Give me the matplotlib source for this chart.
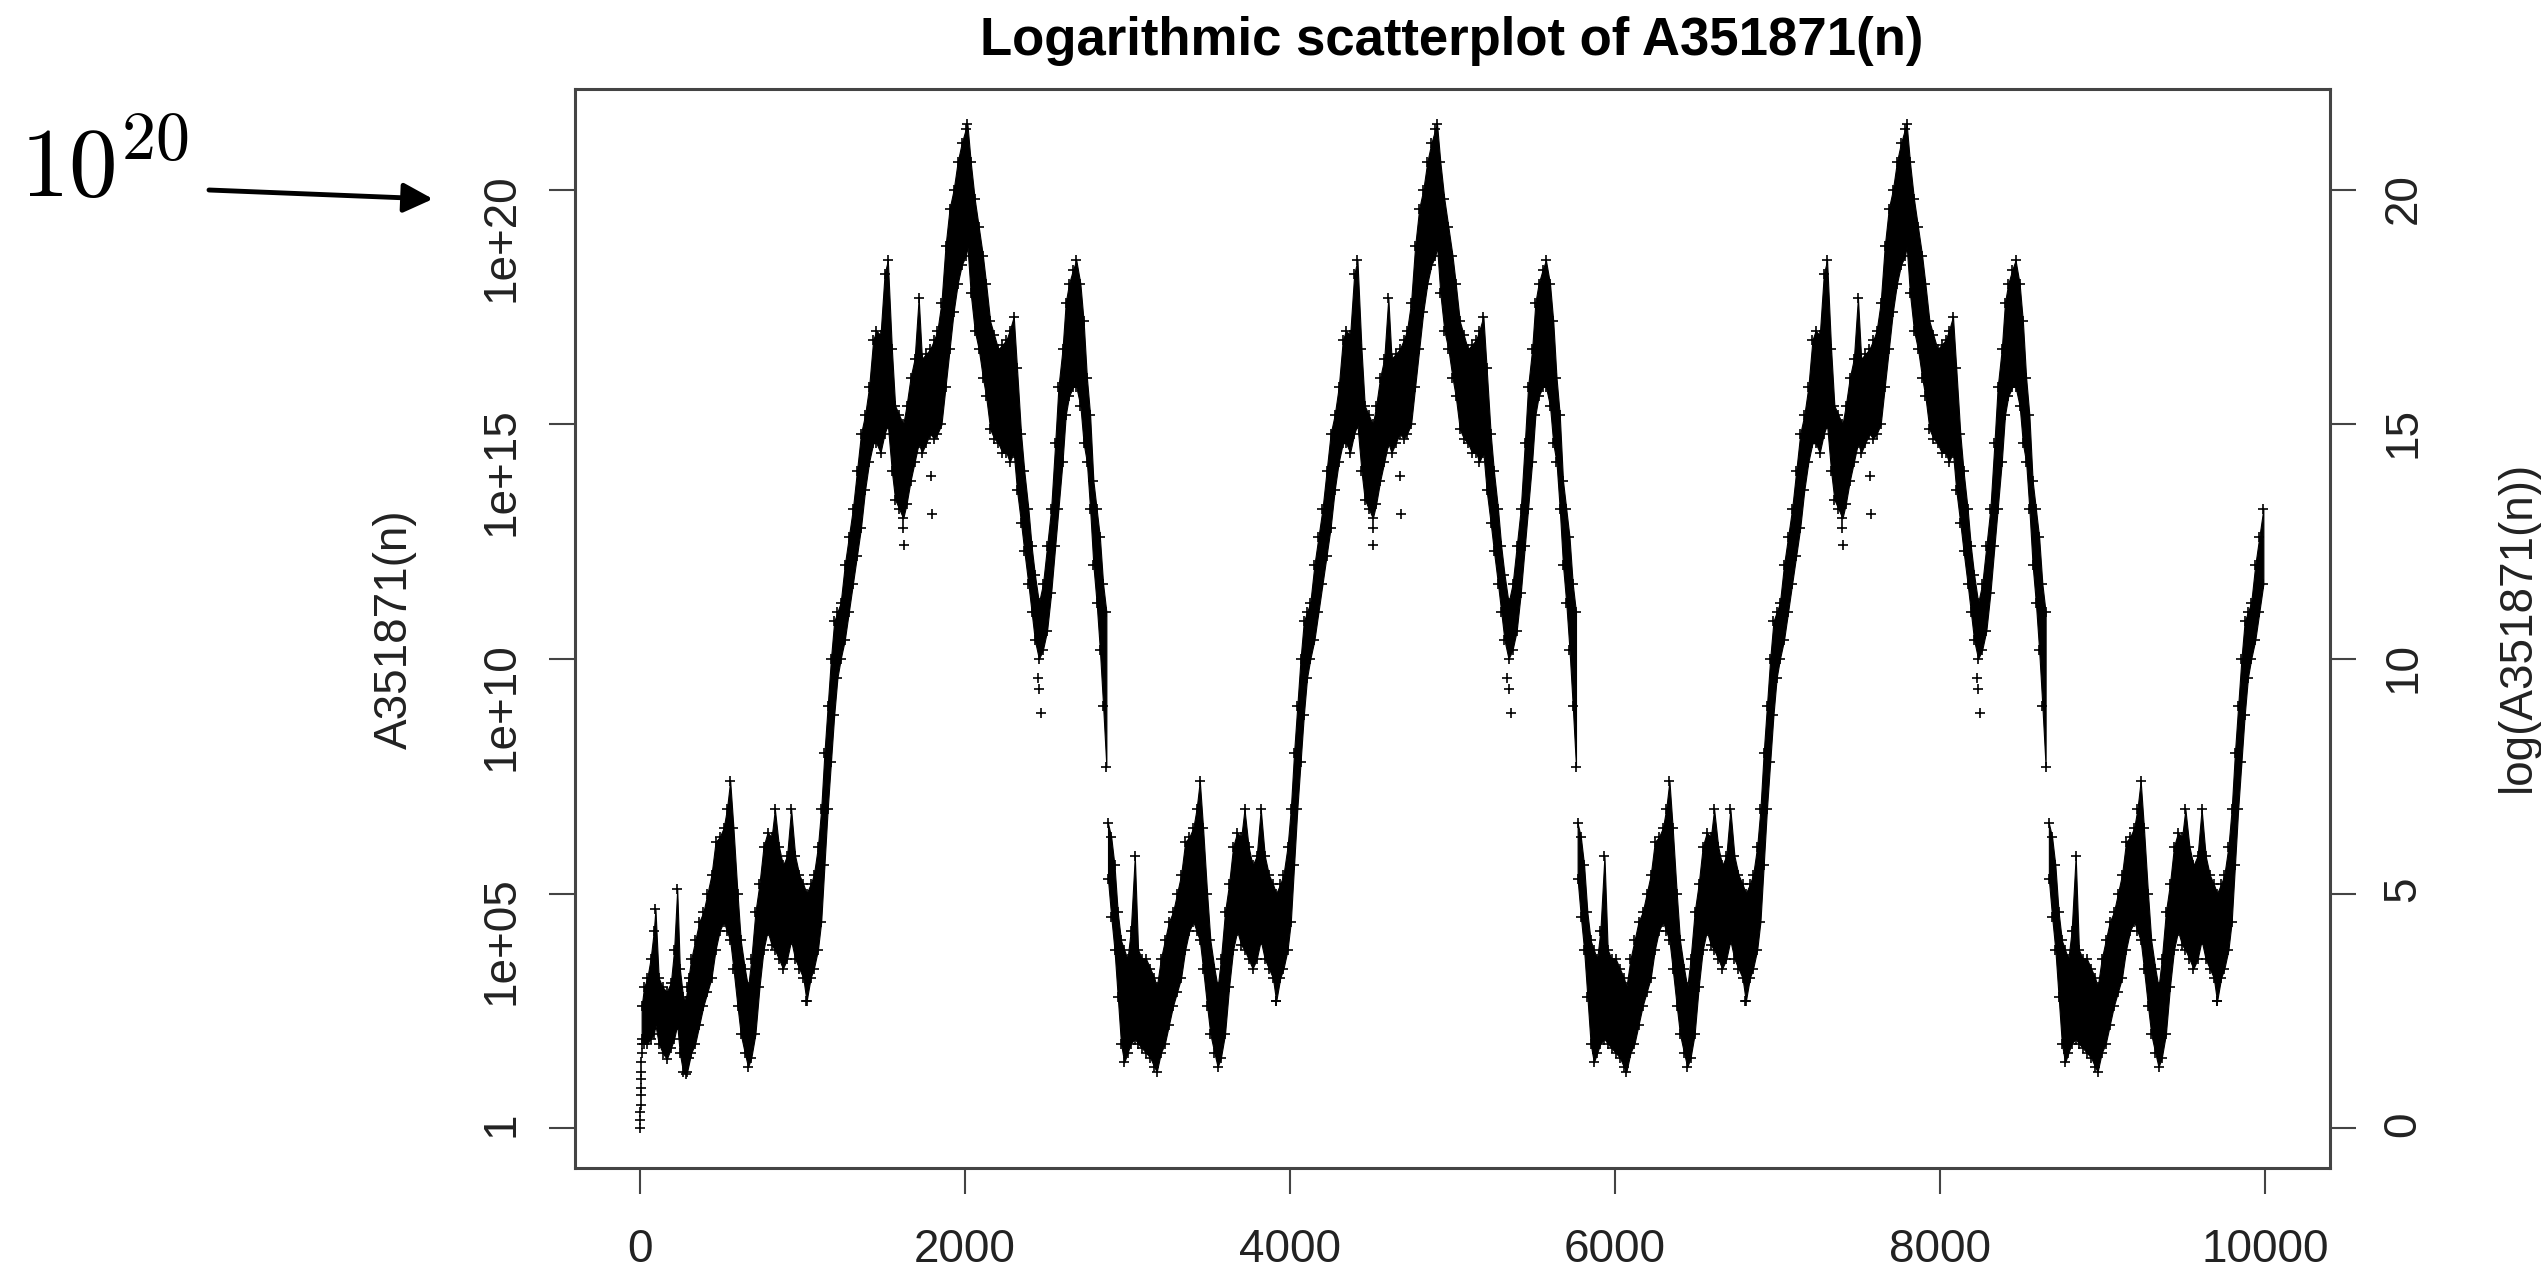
import numpy as np
import matplotlib.pyplot as plt

plt.rcParams['font.family'] = ['Liberation Sans', 'DejaVu Sans']
plt.rcParams['mathtext.fontset'] = 'cm'

# one period of the band (second cycle, n = 2880..5760), log10(A351871(n)) low / high edge
cyc_n = [2880, 2900, 2920, 2940, 2960, 2980, 3000, 3020, 3045, 3065, 3090, 3115, 3140, 3165,
         3180, 3205, 3230, 3255, 3280, 3305, 3330, 3355, 3380, 3405, 3425, 3445, 3465, 3490,
         3510, 3535, 3555, 3575, 3600, 3625, 3650, 3675, 3700, 3720, 3745, 3770, 3795, 3820,
         3845, 3870, 3895, 3915, 3940, 3960, 3985, 4005, 4025, 4045, 4065, 4085, 4105, 4125,
         4150, 4175, 4200, 4225, 4250, 4275, 4300, 4325, 4345, 4370, 4395, 4415, 4440, 4460,
         4485, 4510, 4530, 4555, 4580, 4605, 4625, 4650, 4675, 4700, 4720, 4745, 4770, 4795,
         4820, 4845, 4870, 4895, 4905, 4925, 4950, 4975, 5000, 5020, 5045, 5070, 5095, 5120,
         5145, 5165, 5190, 5210, 5235, 5255, 5280, 5300, 5320, 5345, 5370, 5395, 5420, 5445,
         5465, 5490, 5510, 5530, 5555, 5575, 5600, 5620, 5640, 5660, 5680, 5700, 5720, 5740,
         5760]
cyc_lo = [5.3, 4.5, 3.8, 2.8, 1.8, 1.4, 1.6, 1.8, 1.9, 1.8, 1.7, 1.6, 1.5, 1.3,
          1.2, 1.6, 1.8, 2.2, 2.6, 2.9, 3.2, 3.8, 4.2, 4.4, 4.2, 4.0, 3.4, 2.6,
          2.0, 1.6, 1.3, 1.5, 2.0, 3.0, 3.8, 4.2, 3.9, 3.8, 3.6, 3.4, 3.6, 4.0,
          3.6, 3.4, 3.2, 2.7, 3.2, 3.4, 3.8, 4.4, 5.6, 6.8, 7.8, 8.8, 9.6, 10.0,
          10.4, 11.0, 11.6, 12.2, 12.8, 13.6, 14.2, 14.6, 14.6, 14.4, 14.8, 15.0, 14.0, 13.4,
          13.2, 13.0, 13.3, 13.8, 14.2, 14.6, 14.4, 14.6, 14.8, 14.7, 14.8, 15.0, 15.8, 16.6,
          17.4, 18.0, 18.4, 18.6, 18.8, 17.8, 17.0, 16.6, 16.0, 15.6, 14.9, 14.7, 14.6, 14.4,
          14.4, 14.2, 14.4, 13.6, 12.9, 12.3, 11.6, 11.0, 10.4, 10.0, 10.2, 10.6, 11.4, 12.4,
          13.2, 14.2, 15.2, 15.6, 15.8, 15.8, 15.4, 14.6, 14.2, 13.2, 12.0, 11.2, 10.2, 9.0,
          7.7]
cyc_hi = [6.5, 6.2, 5.6, 4.6, 4.0, 3.8, 3.6, 4.2, 5.8, 3.8, 3.6, 3.6, 3.4, 3.2,
          3.0, 3.6, 4.0, 4.4, 4.6, 5.0, 5.4, 6.1, 6.2, 6.4, 6.8, 7.4, 6.4, 5.0,
          4.0, 3.4, 3.0, 3.6, 4.6, 5.2, 6.0, 6.3, 6.2, 6.8, 6.0, 5.6, 5.8, 6.8,
          5.8, 5.4, 5.2, 5.0, 5.2, 5.4, 6.0, 6.8, 8.0, 9.0, 10.0, 10.8, 11.0, 11.2,
          12.0, 12.6, 13.2, 14.0, 14.8, 15.2, 15.8, 16.8, 17.0, 16.9, 18.2, 18.5, 16.6, 15.4,
          15.2, 15.0, 15.4, 16.0, 16.4, 17.7, 16.4, 16.5, 16.6, 16.8, 17.0, 17.6, 18.8, 19.6,
          20.0, 20.6, 21.0, 21.3, 21.4, 20.6, 19.8, 19.2, 18.6, 18.0, 17.2, 16.9, 16.6, 16.7,
          16.8, 17.0, 17.3, 16.2, 14.8, 14.0, 13.2, 12.4, 11.8, 11.2, 11.6, 12.4, 13.2, 14.6,
          15.8, 16.6, 17.6, 18.0, 18.3, 18.5, 18.0, 17.2, 16.0, 15.2, 13.8, 13.2, 12.6, 11.6,
          11.0]
# the pattern repeats; shift of each copy of the period
cyc_shift = [-2890, 0, 2890, 5790]

# the very first terms differ from later cycles
start_n = [10, 25, 45, 65, 85, 95, 115, 140, 165, 190, 210, 229, 245, 265, 280, 300]
start_lo = [1.9, 1.8, 1.8, 1.9, 2.0, 2.2, 1.8, 1.6, 1.47, 1.7, 1.9, 2.2, 1.6, 1.2, 1.15, 1.5]
start_hi = [2.6, 3.0, 3.2, 3.6, 4.2, 4.67, 3.2, 3.0, 2.9, 3.1, 3.8, 5.1, 3.4, 2.8, 2.7, 3.2]
col_n = [1, 2, 3, 4, 5, 6, 7, 8, 9, 10, 11]
col_v = [0.0, 0.18, 0.35, 0.5, 0.7, 0.85, 1.05, 1.2, 1.4, 1.6, 1.8]

# isolated points under the band (same period coordinates)
out_n = [3913, 4508, 4512, 4680, 4686, 5338, 5345, 5359]
out_v = [2.71, 12.8, 12.44, 13.9, 13.1, 9.6, 9.37, 8.85]

fig = plt.figure(figsize=(25.41, 12.68), dpi=100)
ax = fig.add_axes([0.22629, 0.07886, 0.69067, 0.85095])

cn = np.array(cyc_n)
clo = np.array(cyc_lo)
chi = np.array(cyc_hi)
for s in cyc_shift:
    n = cn + s
    keep = (n >= 290) & (n <= 10000)
    ax.fill_between(n[keep], clo[keep], chi[keep], color='black', lw=0.8)
    ax.scatter(n[keep], clo[keep], marker='+', s=45, color='black', lw=1.2)
    ax.scatter(n[keep], chi[keep], marker='+', s=45, color='black', lw=1.2)
    on = np.array(out_n) + s
    ok = (on >= 0) & (on <= 10000)
    ax.scatter(on[ok], np.array(out_v)[ok], marker='+', s=45, color='black', lw=1.2)

ax.fill_between(start_n, start_lo, start_hi, color='black', lw=0.8)
ax.scatter(start_n, start_lo, marker='+', s=45, color='black', lw=1.2)
ax.scatter(start_n, start_hi, marker='+', s=45, color='black', lw=1.2)
ax.scatter(col_n, col_v, marker='+', s=45, color='black', lw=1.2)

ax.set_xlim(-400, 10400)
ax.set_ylim(-0.852, 22.152)
ax.set_xticks([0, 2000, 4000, 6000, 8000, 10000])
ax.set_yticks([0, 5, 10, 15, 20])
ax.set_yticklabels(['1', '1e+05', '1e+10', '1e+15', '1e+20'])
ax.tick_params(axis='both', direction='out', length=19, width=1.5, color='#444444',
               labelsize=33, labelcolor='#222222')
ax.tick_params(axis='x', pad=24)
ax.tick_params(axis='y', labelrotation=90, pad=18)
for sp in ax.spines.values():
    sp.set_color('#444444')
    sp.set_linewidth(2.2)

ax2 = ax.twinx()
ax2.set_ylim(-0.852, 22.152)
ax2.set_yticks([0, 5, 10, 15, 20])
ax2.tick_params(axis='y', direction='out', length=19, width=1.5, color='#444444',
                labelsize=33, labelcolor='#222222', labelrotation=90, pad=18)
for sp in ax2.spines.values():
    sp.set_visible(False)

fig.text(1452 / 2541, 1 - 55 / 1268, 'Logarithmic scatterplot of A351871(n)',
         fontsize=38, fontweight='bold', ha='center', va='baseline')
fig.text(395 / 2541, 1 - 629 / 1268, 'A351871(n)', fontsize=33, rotation=90,
         ha='center', va='center', color='#222222')
fig.text(2518 / 2541, 1 - 626 / 1268, 'log(A351871(n))', fontsize=33, rotation=90,
         ha='center', va='center', color='#222222')

fig.text(20 / 2541, 1 - 197 / 1268, r'$10^{20}$', fontsize=70, ha='left', va='baseline')
ax.annotate('', xy=(433, 1268 - 199), xytext=(209, 1268 - 190),
            xycoords='figure pixels', textcoords='figure pixels', annotation_clip=False,
            arrowprops=dict(arrowstyle='-|>', lw=3.5, color='black', mutation_scale=45,
                            shrinkA=0, shrinkB=0))

fig.savefig('out.png', dpi=100)
